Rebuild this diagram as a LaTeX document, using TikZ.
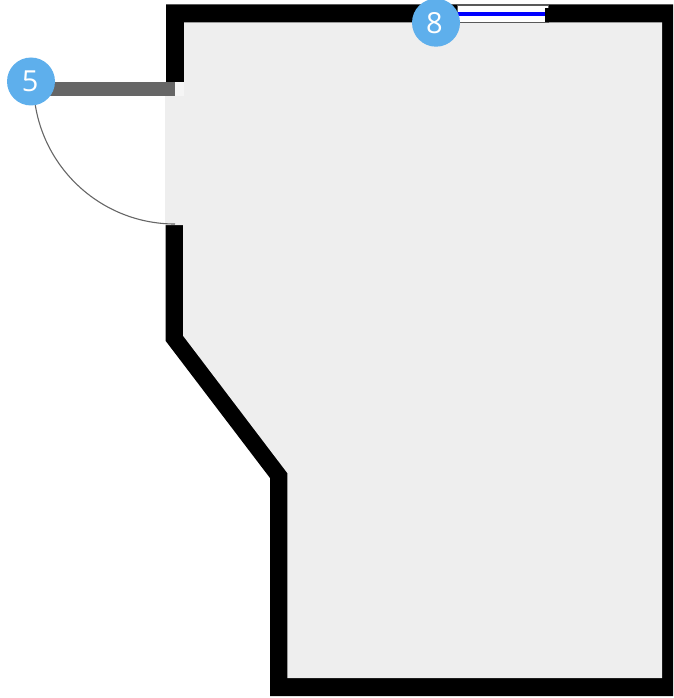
\documentclass[tikz,border=0pt]{standalone}
\usepackage{fontspec}
\setmainfont{Open Sans}
\definecolor{roomgray}{RGB}{238,238,238}
\definecolor{jambgray}{RGB}{245,245,245}
\definecolor{doorgray}{RGB}{102,102,102}
\definecolor{markerblue}{RGB}{94,175,236}
\definecolor{paneblue}{RGB}{0,0,255}
\tikzset{
	marker/.style={circle,fill=markerblue,text=white,minimum size=48pt,inner sep=0pt,font=\fontsize{29pt}{29pt}\selectfont},
}
\begin{document}
\begin{tikzpicture}[x=1pt,y=-1pt]
	\useasboundingbox (0,0) rectangle (673,698);
	% Walls
	\fill (166,4.5) -- (673,4.5) -- (673,696) -- (270,696) -- (270,478) -- (165.5,340.7) -- (165.5,225) -- (183,225) -- (183,82) -- (166,82) -- cycle;
	% Floor
	\fill[roomgray] (184,22.5) -- (662,22.5) -- (662,678) -- (287.3,678) -- (287.3,473) -- (183,335.7) -- (183,225) -- (165,225) -- (165,96) -- (184,96) -- cycle;
	\fill[jambgray] (175,82) rectangle (184,96);
	% Door
	\fill[doorgray] (50,81.7) rectangle (175,96);
	\draw[doorgray,line width=1.1pt] (33.5,82.5) arc (180:90:141.5);
	% Window
	\draw[fill=white,draw=black!65,line width=0.9pt] (457,5) rectangle (548,22);
	\fill (545,8) rectangle (549,22);
	\draw[paneblue,line width=3.6pt] (457,14) -- (545,14);
	% Markers
	\node[marker] (doormark) at (31,81.5) {\kern-1.5pt 5};
	\node[marker] (windowmark) at (436,22.7) {\kern-3pt 8};
\end{tikzpicture}
\end{document}
